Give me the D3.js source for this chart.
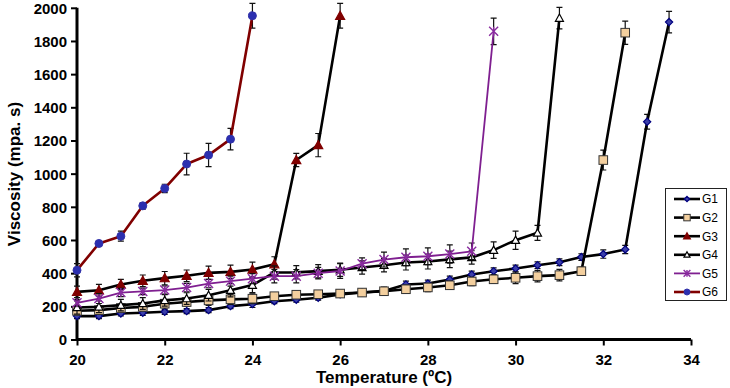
<!DOCTYPE html>
<html><head><meta charset="utf-8">
<script src="https://cdn.jsdelivr.net/npm/d3@7"></script>
<style>body{margin:0;background:#fff}svg{display:block}</style>
</head><body><svg id="c" width="730" height="388"></svg>
<script>
const seriesNames = ["G1","G2","G3","G4","G5","G6"];
const temps = d3.range(20, 33.51, 0.5);
const g1 = [141,141,157,161,167,171,177,201,213,231,240,252,272,283,293,332,338,362,392,412,428,448,466,497,515,543,1313,1914];
const g2 = [173,177,190,197,216,226,236,242,246,261,270,273,277,283,291,303,314,327,350,363,372,382,388,412,1082,1850];
const g3 = [287,297,332,354,370,384,402,408,422,454,1082,1172,1952];
const g4 = [193,197,207,217,236,247,267,297,328,404,405,412,421,434,448,464,470,483,495,539,599,643,1938];
const g5 = [221,247,283,290,298,313,337,352,367,382,382,400,413,457,482,496,502,515,532,1858];
const g6 = [418,579,623,806,911,1058,1112,1208,1952];
const e1 = [15,15,15,15,15,15,15,15,20,15,15,15,15,15,20,20,20,20,20,20,20,20,20,20,25,25,45,65];
const e2 = [25,25,25,25,25,25,30,30,30,20,20,20,20,20,25,25,25,25,25,25,35,35,35,25,60,70];
const e3 = [35,35,30,35,40,35,40,40,45,45,40,70,75];
const e4 = [40,35,35,35,35,35,35,40,45,40,40,40,40,40,40,45,45,50,40,50,55,45,65];
const e5 = [20,30,25,20,25,25,25,30,30,40,40,35,45,35,45,50,50,55,50,80];
const e6 = [40,10,30,20,25,65,70,65,75];
const yTicks = [0,200,400,600,800,1000,1200,1400,1600,1800,2000];
const xTicks = [20,22,24,26,28,30,32,34];

const styles = {
  G1:{line:"#000000",lw:2.6,marker:"diamond",fill:"#3b3fa8",stroke:"#000080",size:3.6},
  G2:{line:"#000000",lw:2.6,marker:"square",fill:"#f3cf9e",stroke:"#333",size:4.3},
  G3:{line:"#000000",lw:2.6,marker:"triangle",fill:"#800000",stroke:"#800000",size:4.5},
  G4:{line:"#000000",lw:2.6,marker:"triangleOpen",fill:"#ffffff",stroke:"#000",size:4},
  G5:{line:"#7f1f90",lw:1.8,marker:"x",fill:"none",stroke:"#8a2ba0",size:4.5},
  G6:{line:"#800000",lw:2.6,marker:"circle",fill:"#2b2fb0",stroke:"#3333aa",size:4}
};

const vals = [g1,g2,g3,g4,g5,g6];
const errs = [e1,e2,e3,e4,e5,e6];
const data = seriesNames.map((n,i)=>({name:n, pts: vals[i].map((v,j)=>({t:temps[j], v, e:errs[i][j]}))}));

const svg = d3.select("#c");
const x = d3.scaleLinear().domain([20,34]).range([77,691]);
const y = d3.scaleLinear().domain([0,2000]).range([339.5,7.8]);

const font = "'Liberation Sans', Arial, sans-serif";

const xa = svg.append("g").attr("transform","translate(0,339.5)")
  .call(d3.axisBottom(x).tickValues(xTicks).tickSize(6).tickPadding(5).tickFormat(d3.format("d")));
const ya = svg.append("g").attr("transform","translate(77,0)")
  .call(d3.axisLeft(y).tickValues(yTicks).tickSize(6).tickPadding(4).tickFormat(d3.format("d")));
[xa,ya].forEach(a=>{
  a.select(".domain").attr("stroke","#000").attr("stroke-width",3);
  a.selectAll(".tick line").attr("stroke","#000").attr("stroke-width",2);
  a.selectAll("text").attr("font-family",font).attr("font-weight","bold").attr("font-size",15).attr("fill","#000");
});
xa.select(".domain").attr("d","M77,0H691");
ya.select(".domain").attr("d","M0,7.8V339.5");
xa.selectAll(".tick text").attr("dy","0.95em");
ya.selectAll(".tick text").attr("dy","0.36em");

svg.append("text").attr("x",384).attr("y",383).attr("text-anchor","middle")
  .attr("font-family",font).attr("font-weight","bold").attr("font-size",17).text("Temperature (ºC)");
svg.append("text").attr("transform","translate(20,174) rotate(-90)").attr("text-anchor","middle")
  .attr("font-family",font).attr("font-weight","bold").attr("font-size",17).text("Viscosity (mpa. s)");

function drawMarker(g, type, st, cx, cy, scale){
  const s = st.size*(scale||1);
  if(type==="diamond"){
    g.append("path").attr("d",`M${cx},${cy-s}L${cx+s},${cy}L${cx},${cy+s}L${cx-s},${cy}Z`)
      .attr("fill",st.fill).attr("stroke",st.stroke).attr("stroke-width",1.2);
  } else if(type==="square"){
    g.append("rect").attr("x",cx-s).attr("y",cy-s).attr("width",2*s).attr("height",2*s)
      .attr("fill",st.fill).attr("stroke",st.stroke).attr("stroke-width",1);
  } else if(type==="triangle"||type==="triangleOpen"){
    g.append("path").attr("d",`M${cx},${cy-s}L${cx+s},${cy+s*0.8}L${cx-s},${cy+s*0.8}Z`)
      .attr("fill",st.fill).attr("stroke",st.stroke).attr("stroke-width",1.2);
  } else if(type==="x"){
    g.append("path").attr("d",`M${cx-s},${cy-s}L${cx+s},${cy+s}M${cx-s},${cy+s}L${cx+s},${cy-s}M${cx},${cy-s}V${cy+s}`)
      .attr("stroke",st.stroke).attr("stroke-width",1.4).attr("fill","none");
  } else if(type==="circle"){
    g.append("circle").attr("cx",cx).attr("cy",cy).attr("r",s)
      .attr("fill",st.fill).attr("stroke",st.stroke).attr("stroke-width",1);
  }
}

const line = d3.line().x(d=>x(d.t)).y(d=>y(d.v));
data.forEach(s=>{
  const st = styles[s.name];
  const g = svg.append("g");
  s.pts.forEach(p=>{
    const cx = x(p.t);
    g.append("path").attr("d",`M${cx},${y(p.v+p.e)}V${y(p.v-p.e)}M${cx-3},${y(p.v+p.e)}H${cx+3}M${cx-3},${y(p.v-p.e)}H${cx+3}`)
      .attr("stroke","#111").attr("stroke-width",1.2).attr("fill","none");
  });
  g.append("path").datum(s.pts).attr("d",line).attr("fill","none")
    .attr("stroke",st.line).attr("stroke-width",st.lw).attr("stroke-linejoin","round");
  s.pts.forEach(p=>drawMarker(g, st.marker, st, x(p.t), y(p.v)));
});

const lg = svg.append("g");
lg.append("rect").attr("x",665.5).attr("y",188.5).attr("width",61).attr("height",112)
  .attr("fill","#fff").attr("stroke","#222").attr("stroke-width",1);
seriesNames.forEach((n,i)=>{
  const st = styles[n];
  const cy = 199 + i*18.6;
  lg.append("line").attr("x1",674).attr("x2",700).attr("y1",cy).attr("y2",cy)
    .attr("stroke",st.line).attr("stroke-width",st.lw);
  drawMarker(lg, st.marker, st, 687, cy, 0.75);
  lg.append("text").attr("x",702).attr("y",cy).attr("dy","0.36em")
    .attr("font-family",font).attr("font-size",12).attr("fill","#000").text(n);
});
</script></body></html>
